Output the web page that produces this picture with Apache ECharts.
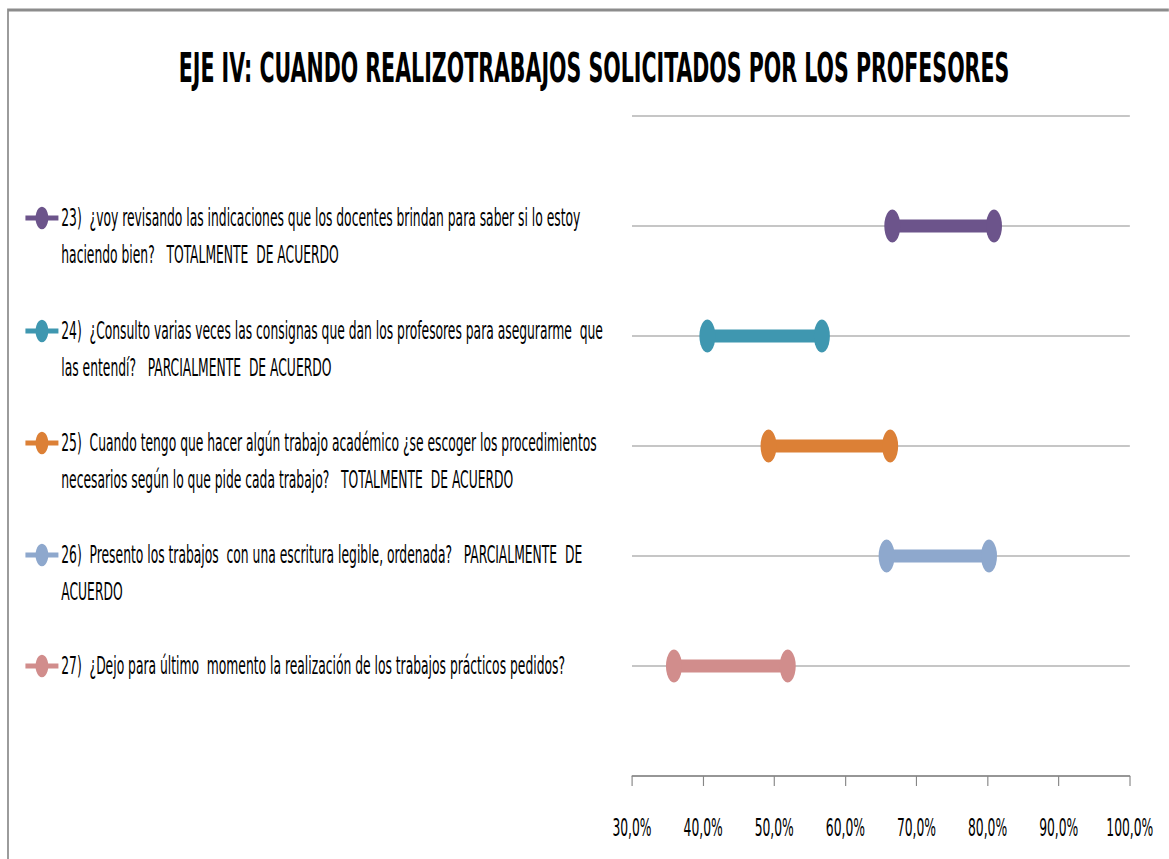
<!DOCTYPE html>
<html>
<head>
<meta charset="utf-8">
<script src="https://cdn.jsdelivr.net/npm/echarts@6/dist/echarts.min.js"></script>
<style>
  html, body { margin: 0; padding: 0; background: #fff; overflow: hidden; }
  #wrap { width: 1169px; height: 859px; overflow: hidden; }
  #chart { height: 859px; transform-origin: 0 0; }
</style>
</head>
<body>
<div id="wrap"><div id="chart"></div></div>
<script>
// Survey items (legend labels, line breaks as shown)
const items = [
  '23)  ¿voy revisando las indicaciones que los docentes brindan para saber si lo estoy\nhaciendo bien?   TOTALMENTE  DE ACUERDO',
  '24)  ¿Consulto varias veces las consignas que dan los profesores para asegurarme  que\nlas entendí?   PARCIALMENTE  DE ACUERDO',
  '25)  Cuando tengo que hacer algún trabajo académico ¿se escoger los procedimientos\nnecesarios según lo que pide cada trabajo?   TOTALMENTE  DE ACUERDO',
  '26)  Presento los trabajos  con una escritura legible, ordenada?   PARCIALMENTE  DE\nACUERDO',
  '27)  ¿Dejo para último  momento la realización de los trabajos prácticos pedidos?'
];
// Range of each item, in percent
const lowValues  = [66.6, 40.6, 49.2, 65.8, 35.9];
const highValues = [80.9, 56.7, 66.3, 80.2, 51.9];
// Row of each item on the vertical scale (top to bottom)
const rows = [5, 4, 3, 2, 1];
const colors = ['#6c548b', '#3f97b0', '#dc8036', '#8ea8cd', '#d18d8c'];
const titleText = 'EJE IV: CUANDO REALIZOTRABAJOS SOLICITADOS POR LOS PROFESORES';

// The drawing is laid out wide and squeezed horizontally for narrow lettering
const SQUEEZE = 0.571;
const W = 1169 / SQUEEZE;
const sx = px => px / SQUEEZE;
const FONT = "'Liberation Sans Narrow', 'DejaVu Sans Condensed', 'Liberation Sans', sans-serif";
const LINE_H = 37;
const TITLE_SIZE = 40;
const TEXT_SIZE = 24;
const legendCenters = [218, 331, 443, 555, 666];

const chartEl = document.getElementById('chart');
chartEl.style.width = W + 'px';
chartEl.style.transform = 'scaleX(' + SQUEEZE + ')';
const chart = echarts.init(chartEl, null, { renderer: 'svg' });

// One legend per item; blank leading lines keep the first text line level with the icon
const legends = items.map((name, i) => {
  const n = name.split('\n').length;
  const half = (2 * n - 1) * LINE_H / 2;
  return {
    data: [name],
    formatter: label => '\n'.repeat(n - 1) + label,
    left: sx(24),
    top: legendCenters[i] - half,
    padding: 0,
    itemGap: 0,
    selectedMode: false,
    itemWidth: sx(33),
    itemHeight: 28,
    lineStyle: { width: 5 },
    textStyle: { fontFamily: FONT, fontSize: TEXT_SIZE, color: '#000', lineHeight: LINE_H }
  };
});

const series = items.map((name, i) => ({
  name: name,
  type: 'line',
  data: [[lowValues[i], rows[i]], [highValues[i], rows[i]]],
  symbol: 'circle',
  symbolSize: [sx(16), 33],
  color: colors[i],
  itemStyle: { color: colors[i] },
  lineStyle: { width: 13, color: colors[i] },
  emphasis: { disabled: true },
  animation: false
}));

chart.setOption({
  backgroundColor: '#fff',
  animation: false,
  title: {
    text: titleText,
    left: sx(594),
    textAlign: 'center',
    top: 68.5 - TITLE_SIZE / 2,
    padding: 0,
    textStyle: { fontFamily: FONT, fontSize: TITLE_SIZE, fontWeight: 'bold', color: '#000', lineHeight: TITLE_SIZE }
  },
  legend: legends,
  grid: { left: sx(632), right: sx(39), top: 116, bottom: 83 },
  xAxis: {
    type: 'value', min: 30, max: 100, interval: 10,
    axisLine: { show: true, lineStyle: { color: '#868686', width: 1.5 } },
    axisTick: { show: true, length: 10, lineStyle: { color: '#868686', width: 2 } },
    axisLabel: {
      margin: 40, fontFamily: FONT, fontSize: TEXT_SIZE, color: '#000',
      formatter: v => v.toFixed(1).replace('.', ',') + '%'
    },
    splitLine: { show: false }
  },
  yAxis: {
    type: 'value', min: 0, max: 6, interval: 1,
    axisLabel: { show: false }, axisLine: { show: false }, axisTick: { show: false },
    splitLine: { show: true, lineStyle: { color: '#c6c6c6', width: 2 } }
  },
  graphic: [{
    type: 'polyline',
    silent: true,
    shape: { points: [[sx(8), 900], [sx(8), 10], [W + 10, 10]] },
    style: { stroke: '#8c8c8c', lineWidth: 3, fill: null }
  }],
  series: series
});
</script>
</body>
</html>
